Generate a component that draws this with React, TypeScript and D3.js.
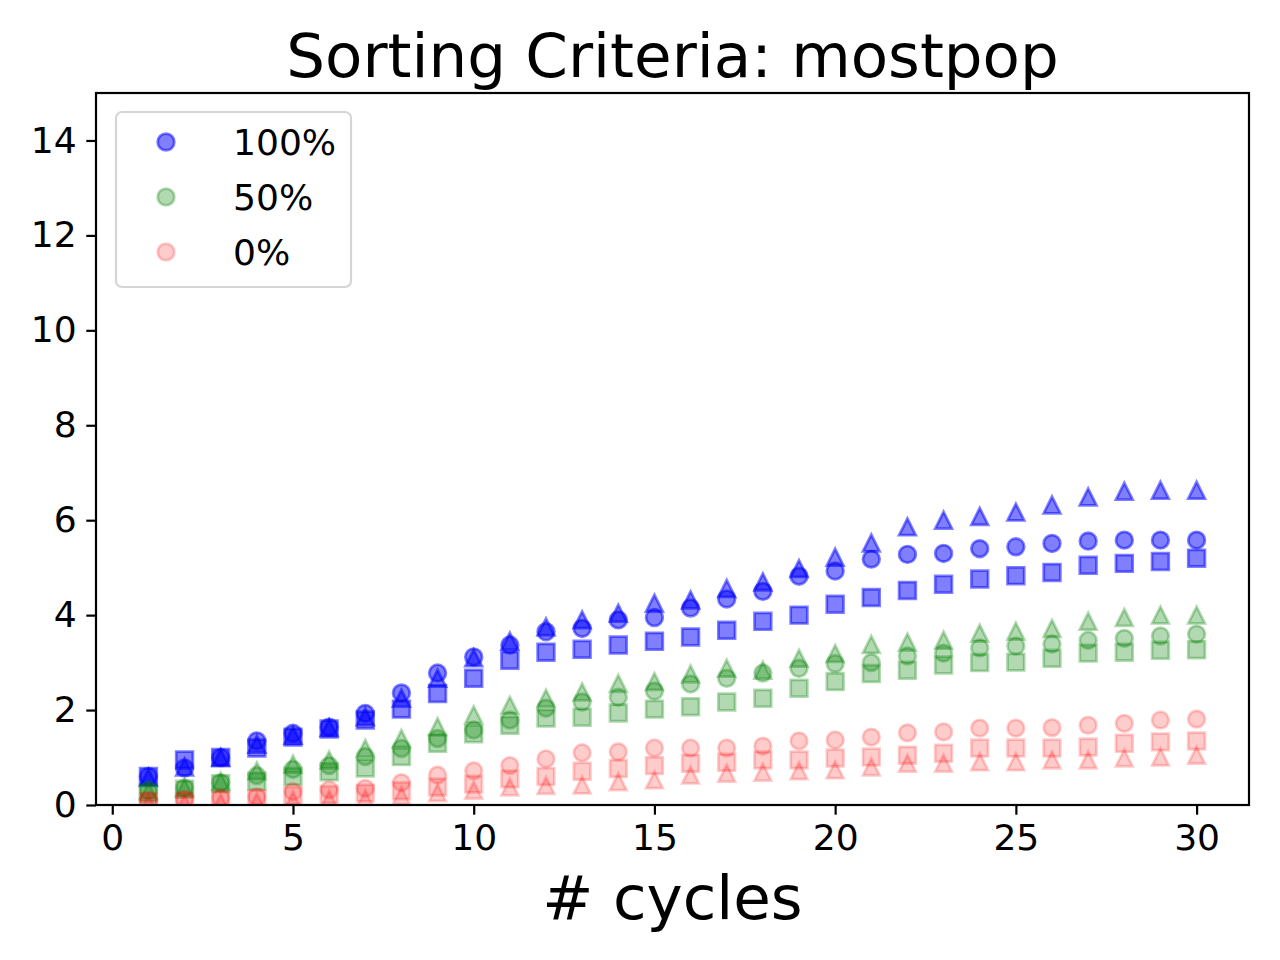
import React, { useEffect, useRef } from 'react';
import * as d3 from 'd3';

const cycles = [
  1, 2, 3, 4, 5, 6, 7, 8, 9, 10, 11, 12, 13, 14, 15,
  16, 17, 18, 19, 20, 21, 22, 23, 24, 25, 26, 27, 28, 29, 30,
];

// 100%
const fullCircle = [
  0.6, 0.78, 1.0, 1.35, 1.51, 1.64, 1.93, 2.36, 2.78, 3.12, 3.37, 3.65, 3.72, 3.9, 3.95,
  4.15, 4.34, 4.5, 4.82, 4.93, 5.18, 5.28, 5.3, 5.4, 5.44, 5.51, 5.56, 5.58, 5.58, 5.58,
];
const fullSquare = [
  0.6, 0.95, 1.0, 1.2, 1.43, 1.6, 1.79, 2.02, 2.35, 2.67, 3.05, 3.22, 3.28, 3.37, 3.45,
  3.54, 3.68, 3.87, 4.0, 4.23, 4.37, 4.52, 4.65, 4.76, 4.83, 4.9, 5.05, 5.09, 5.13, 5.2,
];
const fullTriangle = [
  0.58, 0.8, 1.0, 1.28, 1.47, 1.63, 1.86, 2.25, 2.67, 3.1, 3.45, 3.75, 3.9, 4.04, 4.25,
  4.32, 4.56, 4.7, 4.98, 5.22, 5.52, 5.86, 6.0, 6.08, 6.17, 6.32, 6.49, 6.61, 6.63, 6.63,
];

// 50%
const halfCircle = [
  0.31, 0.36, 0.47, 0.62, 0.75, 0.83, 1.02, 1.19, 1.4, 1.58, 1.79, 2.04, 2.17, 2.27, 2.4,
  2.55, 2.67, 2.78, 2.88, 2.98, 3.0, 3.14, 3.2, 3.31, 3.35, 3.39, 3.47, 3.51, 3.56, 3.6,
];
const halfSquare = [
  0.25, 0.33, 0.45, 0.5, 0.6, 0.7, 0.78, 1.02, 1.3, 1.5, 1.68, 1.83, 1.85, 1.94, 2.02,
  2.07, 2.17, 2.25, 2.46, 2.6, 2.77, 2.84, 2.95, 3.0, 3.01, 3.09, 3.2, 3.22, 3.26, 3.27,
];
const halfTriangle = [
  0.3, 0.37, 0.5, 0.72, 0.86, 0.95, 1.19, 1.4, 1.65, 1.9, 2.1, 2.25, 2.38, 2.56, 2.6,
  2.76, 2.88, 2.84, 3.09, 3.19, 3.38, 3.43, 3.47, 3.62, 3.66, 3.72, 3.87, 3.95, 4.0, 4.0,
];

// 0%
const zeroCircle = [
  0.1, 0.12, 0.15, 0.17, 0.28, 0.32, 0.35, 0.47, 0.63, 0.72, 0.83, 0.97, 1.1, 1.12, 1.2,
  1.2, 1.2, 1.24, 1.35, 1.37, 1.43, 1.52, 1.54, 1.62, 1.62, 1.63, 1.68, 1.72, 1.79, 1.81,
];
const zeroSquare = [
  0.07, 0.08, 0.1, 0.13, 0.2, 0.22, 0.25, 0.3, 0.38, 0.44, 0.55, 0.6, 0.71, 0.77, 0.83,
  0.88, 0.9, 0.95, 0.95, 0.99, 1.01, 1.05, 1.09, 1.2, 1.2, 1.2, 1.22, 1.3, 1.33, 1.35,
];
const zeroTriangle = [
  0.03, 0.04, 0.05, 0.07, 0.1, 0.12, 0.13, 0.2, 0.26, 0.31, 0.38, 0.41, 0.42, 0.49, 0.53,
  0.63, 0.67, 0.69, 0.72, 0.74, 0.8, 0.88, 0.88, 0.91, 0.91, 0.95, 0.95, 0.99, 1.01, 1.05,
];

const groups = [
  { label: '100%', color: 'blue', alpha: 0.5, circle: fullCircle, square: fullSquare, triangle: fullTriangle },
  { label: '50%', color: 'green', alpha: 0.3, circle: halfCircle, square: halfSquare, triangle: halfTriangle },
  { label: '0%', color: 'red', alpha: 0.2, circle: zeroCircle, square: zeroSquare, triangle: zeroTriangle },
];

const xTicks = [0, 5, 10, 15, 20, 25, 30];
const yTicks = [0, 2, 4, 6, 8, 10, 12, 14];

const FONT = 'DejaVu Sans, sans-serif';
const MS = 16.67; // marker size in px (6pt @ 200dpi)
const SMALL = '36.1px';
const LARGE = '61.1px';

const markerPath = (shape: string) => {
  const h = MS / 2;
  if (shape === 'square') return `M${-h},${-h}H${h}V${h}H${-h}Z`;
  if (shape === 'triangle') return `M0,${-h}L${h},${h}L${-h},${h}Z`;
  return `M${h},0A${h},${h} 0 1,1 ${-h},0A${h},${h} 0 1,1 ${h},0Z`;
};

const App: React.FC = () => {
  const svgRef = useRef<SVGSVGElement>(null);
  const width = 1280;
  const height = 960;

  useEffect(() => {
    document.body.style.margin = '0';
    if (!svgRef.current) return;
    const svg = d3.select(svgRef.current);
    svg.selectAll('*').remove();

    const margin = { top: 93, right: 31, bottom: 155, left: 96 };
    const innerWidth = width - margin.left - margin.right;
    const innerHeight = height - margin.top - margin.bottom;

    svg.append('rect').attr('width', width).attr('height', height).attr('fill', 'white');

    const g = svg.append('g').attr('transform', `translate(${margin.left},${margin.top})`);

    const xScale = d3.scaleLinear().domain([-0.45, 31.45]).range([0, innerWidth]);
    const yScale = d3.scaleLinear().domain([0, 15]).range([innerHeight, 0]);

    // Clip for the plot area
    svg.append('defs').append('clipPath').attr('id', 'plot-clip')
      .append('rect').attr('width', innerWidth).attr('height', innerHeight);

    const plot = g.append('g').attr('clip-path', 'url(#plot-clip)');

    // Points
    groups.forEach(grp => {
      (['circle', 'square', 'triangle'] as const).forEach(shape => {
        const values = grp[shape];
        plot.append('g')
          .selectAll('path')
          .data(values)
          .join('path')
          .attr('transform', (d, i) => `translate(${xScale(cycles[i])},${yScale(d)})`)
          .attr('d', markerPath(shape))
          .attr('fill', grp.color)
          .attr('fill-opacity', grp.alpha)
          .attr('stroke', grp.color)
          .attr('stroke-opacity', grp.alpha)
          .attr('stroke-width', 2.78);
      });
    });

    // Axes
    const xAxis = g.append('g')
      .attr('transform', `translate(0,${innerHeight})`)
      .call(d3.axisBottom(xScale).tickValues(xTicks).tickSize(9.7).tickPadding(9.7).tickFormat(d3.format('d')));
    const yAxis = g.append('g')
      .call(d3.axisLeft(yScale).tickValues(yTicks).tickSize(9.7).tickPadding(9.7).tickFormat(d3.format('d')));

    [xAxis, yAxis].forEach(ax => {
      ax.select('.domain').remove();
      ax.selectAll('line').attr('stroke', 'black').attr('stroke-width', 2.2);
      ax.selectAll('text')
        .attr('fill', 'black')
        .style('font-family', FONT)
        .style('font-size', SMALL);
    });

    // Frame
    g.append('rect')
      .attr('width', innerWidth)
      .attr('height', innerHeight)
      .attr('fill', 'none')
      .attr('stroke', 'black')
      .attr('stroke-width', 2.2);

    // Title and x label
    svg.append('text')
      .attr('x', margin.left + innerWidth / 2)
      .attr('y', 77)
      .attr('text-anchor', 'middle')
      .style('font-family', FONT)
      .style('font-size', LARGE)
      .text('Sorting Criteria: mostpop');

    svg.append('text')
      .attr('x', margin.left + innerWidth / 2)
      .attr('y', 919)
      .attr('text-anchor', 'middle')
      .style('font-family', FONT)
      .style('font-size', LARGE)
      .text('# cycles');

    // Legend
    const legend = svg.append('g').attr('transform', 'translate(116,112)');
    legend.append('rect')
      .attr('width', 235)
      .attr('height', 175)
      .attr('rx', 6)
      .attr('fill', 'white')
      .attr('fill-opacity', 0.8)
      .attr('stroke', '#d5d5d5')
      .attr('stroke-width', 2.2);

    const rows = legend.selectAll('g.row')
      .data(groups)
      .join('g')
      .attr('class', 'row')
      .attr('transform', (d, i) => `translate(0,${30 + i * 55})`);

    rows.append('path')
      .attr('transform', 'translate(50,0)')
      .attr('d', markerPath('circle'))
      .attr('fill', d => d.color)
      .attr('fill-opacity', d => d.alpha)
      .attr('stroke', d => d.color)
      .attr('stroke-opacity', d => d.alpha)
      .attr('stroke-width', 2.78);

    rows.append('text')
      .attr('x', 117)
      .attr('y', 13)
      .style('font-family', FONT)
      .style('font-size', SMALL)
      .text(d => d.label);
  }, []);

  return <svg ref={svgRef} width={width} height={height} style={{ display: 'block' }} />;
};

export default App;
